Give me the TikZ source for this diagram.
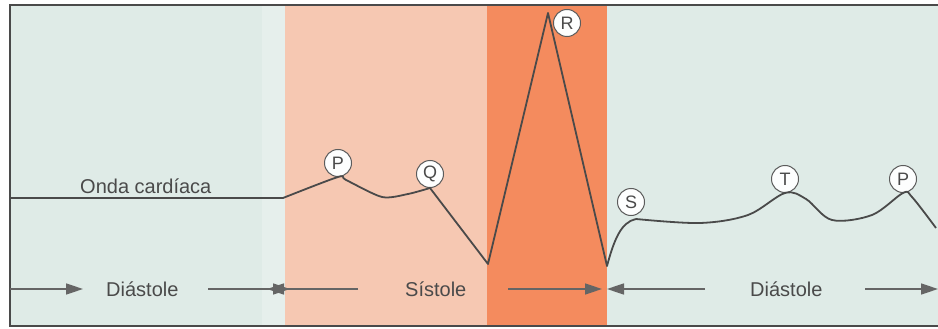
\documentclass[tikz,border=0pt]{standalone}
\usepackage{fontspec}
\setmainfont{Liberation Sans}
\usetikzlibrary{arrows.meta}
\definecolor{mata}{HTML}{DFEBE7}
\definecolor{ruzova}{HTML}{F6C8B2}
\definecolor{oranzova}{HTML}{F48B5E}
\definecolor{tmava}{HTML}{4A4A4A}

\begin{document}
\begin{tikzpicture}[x=1pt,y=-1pt,
    vlna/.style={line width=1.8pt,draw=tmava,line join=round},
    znacka/.style={circle,draw=tmava!90,line width=1pt,fill=white!94!mata,
      minimum size=27pt,inner sep=0pt,font=\fontsize{18}{18}\selectfont,text=tmava},
    sipka/.style={line width=1.7pt,draw=tmava!85,
      -{Triangle[length=17pt,width=11pt]}},
    popis/.style={font=\fontsize{20}{24}\selectfont,text=tmava,anchor=base west,inner sep=0pt}]
        \useasboundingbox (0,0) rectangle (938,329);

        % pozadi
        \fill[mata] (10,5) rectangle (938,326);
        \fill[white!22!mata] (262,5) rectangle (285,326);
        \fill[ruzova] (285,5) rectangle (487,326);
        \fill[oranzova] (487,5) rectangle (607,326);

        % ramecek
        \draw[tmava,line width=1.8pt] (938,5) -- (10,5) -- (10,326) -- (938,326);

        % znacky vln
        \node[znacka] (P1) at (338,163) {P};
        \node[znacka] (Q) at (430,174) {Q};
        \node[znacka] (R) at (567,23) {R};
        \node[znacka] (S) at (631,202) {S};
        \node[znacka] (T) at (785,179) {T};
        \node[znacka] (P2) at (903,179) {P};

        % onda
        \coordinate (start) at (10,198);
        \coordinate (nabeh) at (283,198);
        \coordinate (dno1) at (488,264);
        \coordinate (vrchol) at (548,13);
        \coordinate (dno2) at (607,266);
        \coordinate (konec) at (936,228);
        \draw[vlna] (start) -- (nabeh)
          plot[smooth,tension=0.45] coordinates {(nabeh) (P1.south) (346,180) (382,197) (408,194) (Q.south)}
          -- (dno1) -- (vrchol) -- (dno2)
          .. controls (614,240) and (621,222) .. (636,219)
          plot[smooth,tension=0.55] coordinates {(636,219) (700,223) (748,215) (T.south) (806,199) (832,220) (872,215) (P2.south) (912,197) (konec)};

        % popisky
        \node[popis] (onda) at (80,193) {Onda cardíaca};
        \node[popis] (dia1) at (106,296) {Diástole};
        \node[popis] (sis) at (405,296) {Sístole};
        \node[popis] (dia2) at (750,296) {Diástole};

        % sipky
        \coordinate (a0) at (10,289);
        \coordinate (a1) at (83,289);
        \coordinate (b0) at (208,289);
        \coordinate (b1) at (290,289);
        \coordinate (c0) at (358,289);
        \coordinate (c1) at (267,289);
        \coordinate (d0) at (508,289);
        \coordinate (d1) at (602,289);
        \coordinate (e0) at (705,289);
        \coordinate (e1) at (607,289);
        \coordinate (f0) at (865,289);
        \coordinate (f1) at (938,289);
        \draw[sipka] (a0) -- (a1);
        \draw[sipka] (b0) -- (b1);
        \draw[sipka] (c0) -- (c1);
        \draw[sipka] (d0) -- (d1);
        \draw[sipka] (e0) -- (e1);
        \draw[sipka] (f0) -- (f1);
    \end{tikzpicture}
\end{document}
